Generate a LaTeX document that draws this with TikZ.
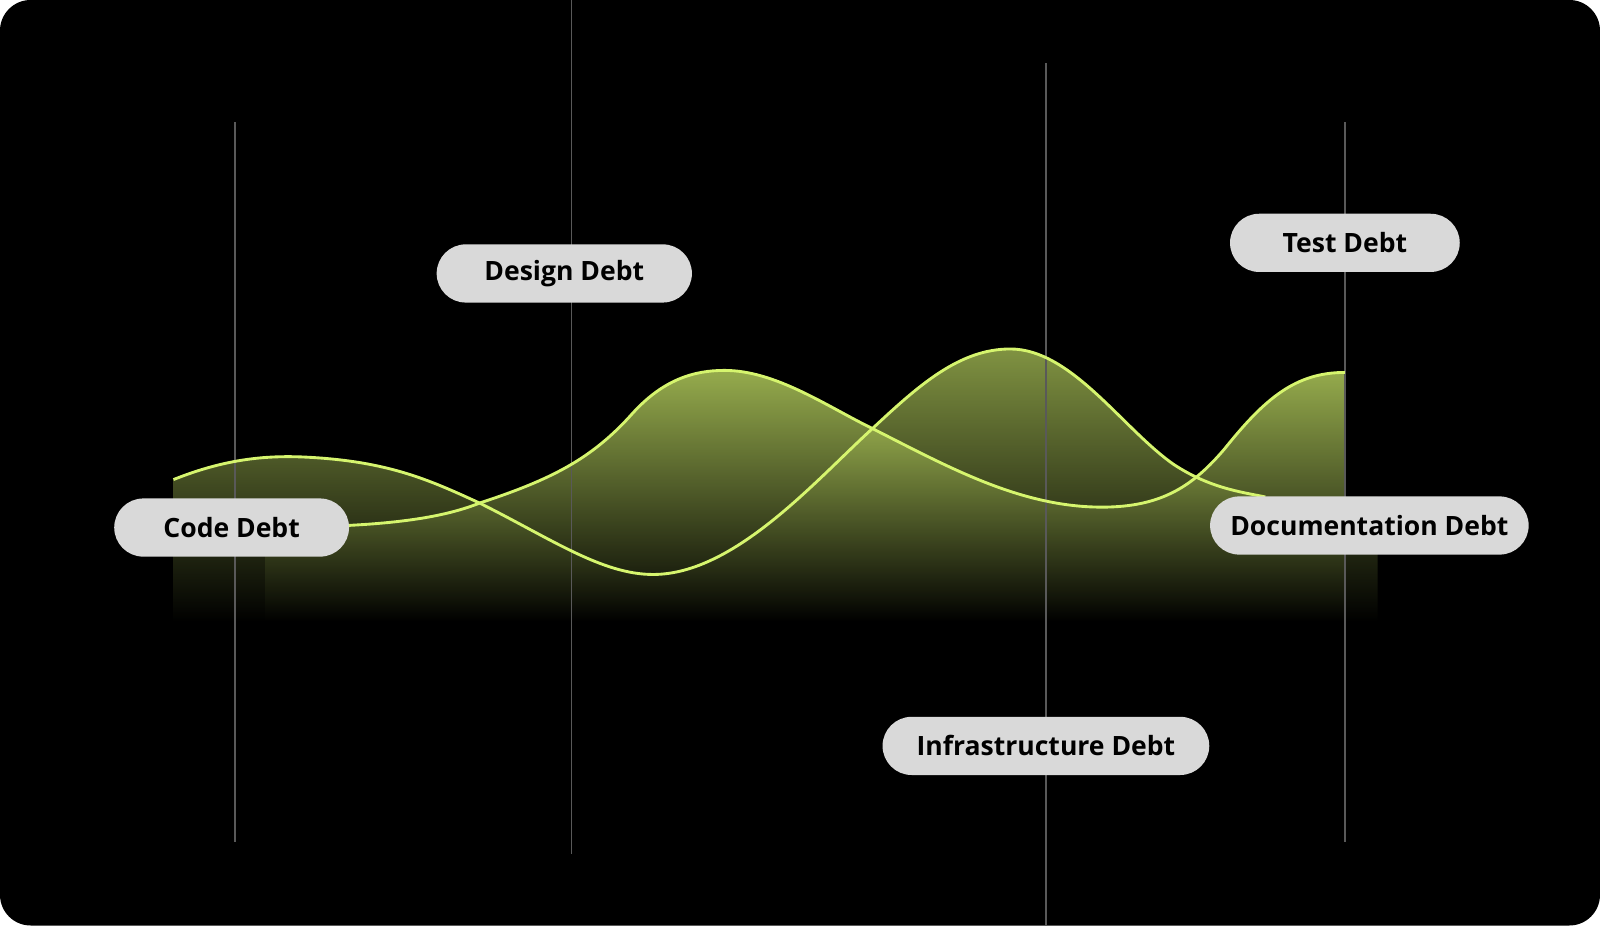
\documentclass[tikz,border=0pt]{standalone}
\usepackage{fontspec}
\setmainfont{Open Sans}
\begin{document}
\begin{tikzpicture}[x=0.01cm,y=-0.01cm,
  vline/.style={draw=gray!70!black,line width=0.5pt},
  curve/.style={draw={rgb,255:red,214;green,245;blue,110},line width=0.8pt},
  pill/.style={fill={rgb,255:red,217;green,217;blue,217},rounded corners=0.285cm,minimum height=0.57cm,inner xsep=0pt,font=\fontsize{7.4}{9}\selectfont\bfseries,text=black}]
\definecolor{lime}{RGB}{214,245,110}
\fill[white] (0,0) rectangle (1568,907);
\fill[black,rounded corners=0.3cm] (0,0) rectangle (1568,907);
\useasboundingbox (0,0) rectangle (1568,907);
% fills
\shade[top color=lime,middle color=gray!60!black,bottom color=black,opacity=0.6] (170,470) .. controls (220,450) and (260,446) .. (300,448) .. controls (380,452) and (420,470) .. (470,493) .. controls (540,528) and (590,563) .. (640,563) .. controls (720,563) and (800,470) .. (855,420) .. controls (900,378) and (940,342) .. (990,342) .. controls (1050,342) and (1100,420) .. (1150,455) .. controls (1185,478) and (1215,482) .. (1240,487) -- (1350,487) -- (1350,610) -- (170,610) -- cycle;
\shade[top color=lime,middle color=gray!60!black,bottom color=black,opacity=0.7] (260,515) -- (340,515) .. controls (400,512) and (440,505) .. (470,493) .. controls (540,470) and (580,450) .. (620,405) .. controls (650,372) and (680,363) .. (710,363) .. controls (760,363) and (810,398) .. (855,420) .. controls (930,458) and (1000,497) .. (1080,497) .. controls (1140,497) and (1170,475) .. (1200,440) .. controls (1240,390) and (1270,365) .. (1318,365) -- (1318,610) -- (260,610) -- cycle;
% vertical lines
\draw[vline] (230,120) -- (230,825);
\draw[vline] (560,0) -- (560,837);
\draw[vline] (1025,62) -- (1025,907);
\draw[vline] (1318,120) -- (1318,825);
% curves
\draw[curve] (170,470) .. controls (220,450) and (260,446) .. (300,448) .. controls (380,452) and (420,470) .. (470,493) .. controls (540,528) and (590,563) .. (640,563) .. controls (720,563) and (800,470) .. (855,420) .. controls (900,378) and (940,342) .. (990,342) .. controls (1050,342) and (1100,420) .. (1150,455) .. controls (1185,478) and (1215,482) .. (1240,487);
\draw[curve] (340,515) .. controls (400,512) and (440,505) .. (470,493) .. controls (540,470) and (580,450) .. (620,405) .. controls (650,372) and (680,363) .. (710,363) .. controls (760,363) and (810,398) .. (855,420) .. controls (930,458) and (1000,497) .. (1080,497) .. controls (1140,497) and (1170,475) .. (1200,440) .. controls (1240,390) and (1270,365) .. (1318,365);
% labels
\node[pill,minimum width=2.5cm] (design) at (553,268) {Design Debt};
\node[pill,minimum width=2.25cm] (test) at (1318,238) {Test Debt};
\node[pill,minimum width=2.3cm] (code) at (227,517) {Code Debt};
\node[pill,minimum width=3.12cm] (doc) at (1342,515) {Documentation Debt};
\node[pill,minimum width=3.2cm] (infra) at (1025,731) {Infrastructure Debt};
\end{tikzpicture}
\end{document}
